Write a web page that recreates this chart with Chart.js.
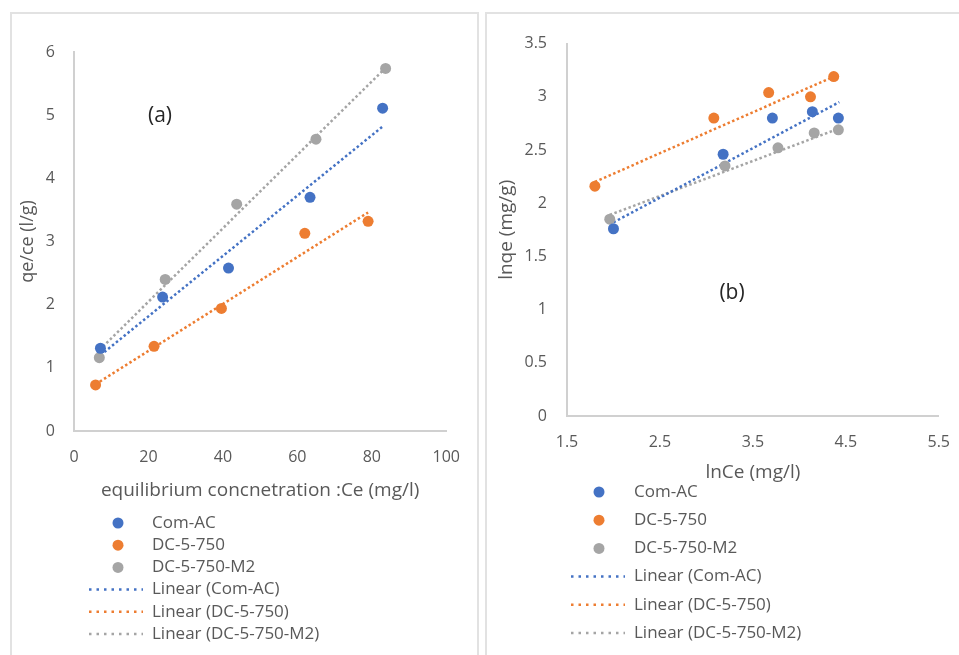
<!DOCTYPE html>
<html>
<head>
<meta charset="utf-8">
<script src="https://cdn.jsdelivr.net/npm/chart.js@4.4.0/dist/chart.umd.min.js"></script>
<style>
  html, body { margin: 0; background: #fff; width: 959px; height: 655px; overflow: hidden; }
  .panel { position: absolute; top: 12px; border: 2px solid #e2e2e2; overflow: hidden; }
  #pa { left: 10px; width: 465px; height: 660px; }
  #pb { left: 485px; width: 480px; height: 660px; }
  canvas { position: absolute; left: 0; top: 0; }
</style>
</head>
<body>
<div class="panel" id="pa"><canvas id="chartA" width="465" height="660"></canvas></div>
<div class="panel" id="pb"><canvas id="chartB" width="480" height="660"></canvas></div>
<script>
const seriesNames = ['Com-AC', 'DC-5-750', 'DC-5-750-M2'];
const seriesColors = ['#4472C4', '#ED7D31', '#A5A5A5'];

// (a) qe/Ce vs Ce
const ceComAC  = [7.1, 23.8, 41.5, 63.4, 82.9];
const qceComAC = [1.31, 2.12, 2.58, 3.70, 5.11];
const ceDC     = [5.8, 21.5, 39.6, 62.0, 79.0];
const qceDC    = [0.73, 1.34, 1.94, 3.13, 3.32];
const ceM2     = [6.8, 24.5, 43.7, 65.0, 83.7];
const qceM2    = [1.16, 2.40, 3.59, 4.62, 5.74];
// linear trendline ends (start, end)
const fitCeComAC = [7.1, 82.9], fitQceComAC = [1.20, 4.82];
const fitCeDC    = [5.8, 79.0], fitQceDC    = [0.74, 3.46];
const fitCeM2    = [6.8, 83.7], fitQceM2    = [1.28, 5.75];
const ticksCe  = [0, 20, 40, 60, 80, 100];
const ticksQce = [0, 1, 2, 3, 4, 5, 6];

// (b) lnqe vs lnCe
const lnCeComAC = [2.00, 3.18, 3.71, 4.14, 4.42];
const lnqComAC  = [1.76, 2.46, 2.80, 2.86, 2.80];
const lnCeDC    = [1.80, 3.08, 3.67, 4.12, 4.37];
const lnqDC     = [2.16, 2.80, 3.04, 3.00, 3.19];
const lnCeM2    = [1.96, 3.20, 3.77, 4.16, 4.42];
const lnqM2     = [1.85, 2.35, 2.52, 2.66, 2.69];
const fitLnCeComAC = [2.00, 4.43], fitLnqComAC = [1.82, 2.95];
const fitLnCeDC    = [1.80, 4.37], fitLnqDC    = [2.20, 3.19];
const fitLnCeM2    = [1.96, 4.42], fitLnqM2    = [1.89, 2.70];
const ticksLnCe = [1.5, 2.5, 3.5, 4.5, 5.5];
const ticksLnq  = [0, 0.5, 1, 1.5, 2, 2.5, 3, 3.5];

const FONT = "'Open Sans', sans-serif";
const TEXT = '#595959';
const AXIS = '#d0d0d0';

const pts = (xs, ys) => xs.map((x, i) => ({ x, y: ys[i] }));

function pointSet(i, xs, ys) {
  return { label: seriesNames[i], data: pts(xs, ys), showLine: false,
    pointRadius: 5.5, pointHoverRadius: 5.5, pointBorderWidth: 0,
    backgroundColor: seriesColors[i], borderColor: seriesColors[i] };
}
function fitSet(i, xs, ys) {
  return { label: 'Linear (' + seriesNames[i] + ')', data: pts(xs, ys), showLine: true,
    pointRadius: 0, borderColor: seriesColors[i], borderWidth: 2.5,
    borderDash: [2.5, 2.5], backgroundColor: seriesColors[i] };
}

// vertical key under the plot plus the (a)/(b) tag
const keyPlugin = {
  id: 'seriesKey',
  afterDraw(chart, args, o) {
    const ctx = chart.ctx;
    ctx.save();
    ctx.textBaseline = 'middle';
    ctx.font = o.tagSize + 'px ' + FONT;
    ctx.fillStyle = '#262626';
    ctx.textAlign = 'center';
    ctx.fillText(o.tag, o.tagX, o.tagY);
    ctx.textAlign = 'left';
    ctx.font = o.size + 'px ' + FONT;
    chart.data.datasets.forEach((ds, i) => {
      const y = o.top + i * o.step;
      if (ds.showLine) {
        ctx.strokeStyle = ds.borderColor;
        ctx.lineWidth = 2.5;
        ctx.setLineDash([2.5, 5]);
        ctx.beginPath();
        ctx.moveTo(o.lineFrom, y);
        ctx.lineTo(o.lineTo, y);
        ctx.stroke();
        ctx.setLineDash([]);
      } else {
        ctx.fillStyle = ds.backgroundColor;
        ctx.beginPath();
        ctx.arc(o.markX, y, 5.5, 0, Math.PI * 2);
        ctx.fill();
      }
      ctx.fillStyle = TEXT;
      ctx.fillText(ds.label, o.textX, y);
    });
    ctx.restore();
  }
};

function axis(ticks, min, max, fit, tickPad, title, titleSize, titlePad, horizontal) {
  return {
    type: 'linear', min, max,
    afterBuildTicks: s => { s.ticks = ticks.map(v => ({ value: v })); },
    afterFit: s => { if (horizontal) s.height = fit; else s.width = fit; },
    grid: { color: 'transparent', drawTicks: false },
    border: { color: AXIS, width: 2 },
    ticks: { padding: tickPad, color: TEXT, font: { family: FONT, size: 16 }, callback: v => String(v) },
    title: { display: true, text: title, color: TEXT, font: { family: FONT, size: titleSize }, padding: titlePad }
  };
}

function makeChart(id, datasets, scales, padding, key) {
  return new Chart(document.getElementById(id), {
    type: 'scatter',
    data: { datasets },
    options: {
      responsive: false, animation: false,
      layout: { padding },
      plugins: { legend: { display: false }, tooltip: { enabled: false }, seriesKey: key },
      scales
    },
    plugins: [keyPlugin]
  });
}

makeChart('chartA', [
  pointSet(0, ceComAC, qceComAC), pointSet(1, ceDC, qceDC), pointSet(2, ceM2, qceM2),
  fitSet(0, fitCeComAC, fitQceComAC), fitSet(1, fitCeDC, fitQceDC), fitSet(2, fitCeM2, fitQceM2)
], {
  x: axis(ticksCe, 0, 100, 80, 17, 'equilibrium concnetration :Ce (mg/l)', 19, { top: 0, bottom: 9 }, true),
  y: axis(ticksQce, 0, 6, 62, 19, 'qe/ce (l/g)', 18, { top: 5, bottom: 0 }, false)
}, { left: 0, right: 28, top: 38, bottom: 163 },
{ tag: '(a)', tagX: 148, tagY: 102, tagSize: 21, size: 17, top: 509, step: 22.2, markX: 106, textX: 140, lineFrom: 77, lineTo: 131 });

makeChart('chartB', [
  pointSet(0, lnCeComAC, lnqComAC), pointSet(1, lnCeDC, lnqDC), pointSet(2, lnCeM2, lnqM2),
  fitSet(0, fitLnCeComAC, fitLnqComAC), fitSet(1, fitLnCeDC, fitLnqDC), fitSet(2, fitLnCeM2, fitLnqM2)
], {
  x: axis(ticksLnCe, 1.5, 5.5, 70, 17, 'lnCe (mg/l)', 19, { top: 0, bottom: 2 }, true),
  y: axis(ticksLnq, 0, 3.5, 80, 20, 'lnqe (mg/g)', 19, { top: 8, bottom: 0 }, false)
}, { left: 0, right: 27, top: 26, bottom: 188 },
{ tag: '(b)', tagX: 245, tagY: 279, tagSize: 21, size: 17, top: 478, step: 28.2, markX: 112, textX: 147, lineFrom: 84, lineTo: 138 });
</script>
</body>
</html>
